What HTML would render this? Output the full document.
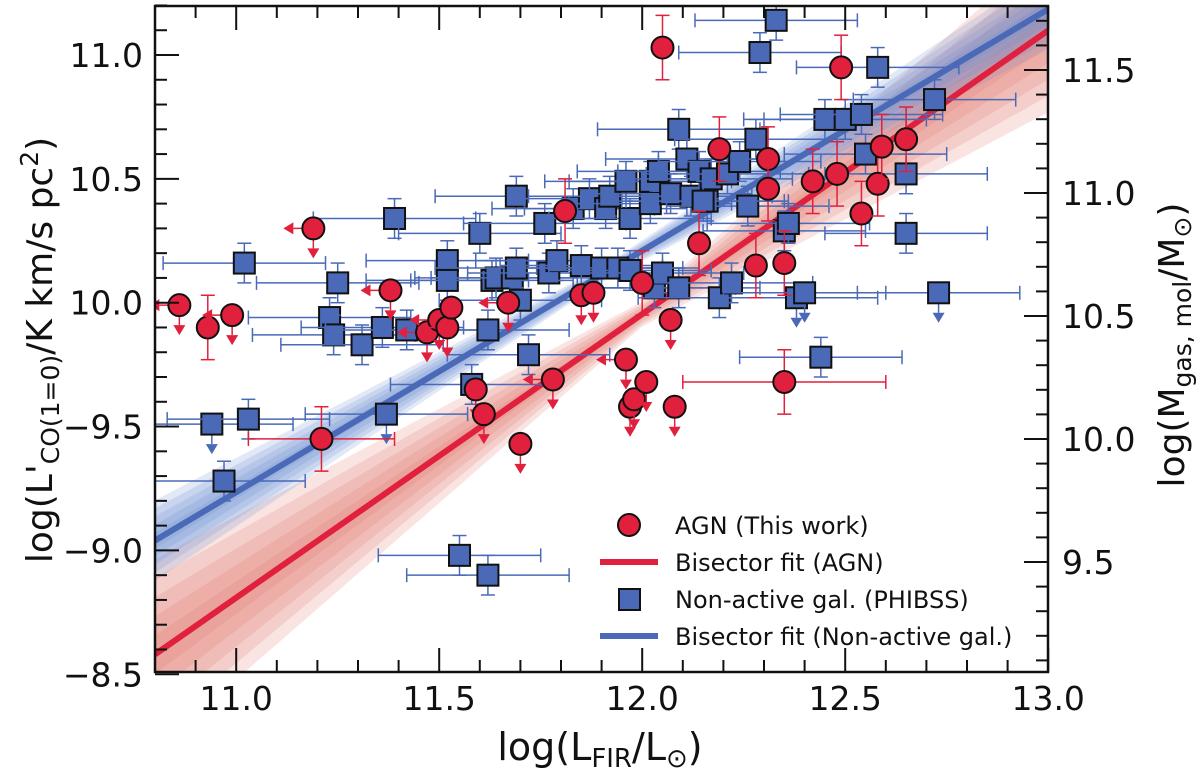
<!DOCTYPE html>
<html><head><meta charset="utf-8"><style>
body{margin:0;background:#fff}
svg text{font-family:"DejaVu Sans","Liberation Sans",sans-serif;fill:#111}
</style></head><body>
<svg id="chart" width="1200" height="772" viewBox="0 0 1200 772" xmlns="http://www.w3.org/2000/svg">
<defs><clipPath id="pc"><rect x="155" y="6" width="893" height="665"/></clipPath></defs>
<g id="bands" clip-path="url(#pc)"></g>
<g id="fits" clip-path="url(#pc)"></g>
<g id="blue" clip-path="url(#pc)"></g>
<g id="red" clip-path="url(#pc)"></g>
<g id="axes"></g>
<g>
  <circle cx="629" cy="525" r="11" fill="#e0203c" stroke="#111" stroke-width="2"/>
  <text x="675" y="534" font-size="24">AGN (This work)</text>
  <line x1="600" y1="562" x2="658" y2="562" stroke="#e0203c" stroke-width="6"/>
  <text x="675" y="571" font-size="24">Bisector fit (AGN)</text>
  <rect x="619" y="589" width="21" height="21" fill="#4a6ab8" stroke="#111" stroke-width="2"/>
  <text x="675" y="608" font-size="24">Non-active gal. (PHIBSS)</text>
  <line x1="600" y1="636" x2="658" y2="636" stroke="#4a6ab8" stroke-width="6"/>
  <text x="675" y="645" font-size="24">Bisector fit (Non-active gal.)</text>
</g>
<text x="600" y="760" font-size="38" text-anchor="middle">log(L<tspan font-size="26" dy="7">FIR</tspan><tspan dy="-7">/L</tspan><tspan font-size="26" dy="7">⊙</tspan><tspan dy="-7">)</tspan></text>
<text transform="translate(52,350) rotate(-90)" font-size="36" text-anchor="middle">log(L'<tspan font-size="25" dy="7">CO(1=0)</tspan><tspan dy="-7">/K km/s pc</tspan><tspan font-size="25" dy="-14">2</tspan><tspan dy="14">)</tspan></text>
<text transform="translate(1184,345) rotate(-90)" font-size="36" text-anchor="middle">log(M<tspan font-size="25" dy="7">gas, mol</tspan><tspan dy="-7">/M</tspan><tspan font-size="25" dy="7">⊙</tspan><tspan dy="-7">)</tspan></text>
</svg>
<script>
const xTicks=[11.0,11.5,12.0,12.5,13.0];
const xTickLabels=["11.0","11.5","12.0","12.5","13.0"];
const yTicks=[11.0,10.5,10.0,9.5,9.0,8.5];
const yTickLabels=["11.0","10.5","10.0","\u22129.5","\u22129.0","\u22128.5"];
const ry2Ticks=[11.5,11.0,10.5,10.0,9.5];
const ry2Labels=["11.5","11.0","10.5","10.0","9.5"];
const agnX=[10.86,10.93,10.99,11.19,11.21,11.38,11.47,11.50,11.52,11.53,11.59,11.61,11.67,11.70,11.78,11.81,11.85,11.88,11.96,11.97,11.98,12.00,12.01,12.07,12.08,12.05,12.14,12.19,12.28,12.31,12.31,12.35,12.35,12.42,12.48,12.49,12.54,12.58,12.59,12.65];
const agnY=[9.99,9.90,9.95,10.30,9.45,10.05,9.88,9.93,9.90,9.98,9.65,9.55,10.00,9.43,9.69,10.37,10.03,10.04,9.77,9.58,9.61,10.08,9.68,9.93,9.58,11.03,10.24,10.62,10.15,10.58,10.46,10.16,9.68,10.49,10.52,10.95,10.36,10.48,10.63,10.66];
const agnLim=[2,0,2,2,0,2,2,2,2,1,1,1,2,1,2,0,1,1,2,1,1,0,1,1,1,0,0,0,0,0,0,0,0,0,0,0,0,0,0,0];
const agnXerr=[0,0,0,0,0.18,0,0,0,0,0,0,0,0,0,0,0,0,0,0,0,0,0,0,0,0,0,0,0,0,0,0,0,0.25,0,0,0,0,0,0,0];
const nonX=[10.97,10.94,11.03,11.02,11.23,11.24,11.25,11.31,11.36,11.37,11.39,11.42,11.52,11.52,11.58,11.60,11.62,11.63,11.64,11.68,11.69,11.69,11.70,11.72,11.76,11.77,11.79,11.83,11.85,11.87,11.90,11.91,11.92,11.94,11.96,11.97,11.97,12.02,12.02,12.03,12.04,12.05,12.07,12.09,12.09,12.11,12.12,12.14,12.16,12.17,12.19,12.21,12.22,12.24,12.26,12.28,12.33,12.29,12.35,12.36,12.38,12.40,12.44,12.45,12.50,12.54,12.55,12.58,12.65,12.65,12.72,12.73,11.55,11.62,12.15];
const nonY=[9.28,9.51,9.53,10.16,9.94,9.87,10.08,9.83,9.90,9.55,10.34,9.89,10.17,10.09,9.67,10.28,9.89,10.09,10.10,10.10,10.14,10.43,10.01,9.79,10.32,10.12,10.17,10.38,10.15,10.42,10.14,10.38,10.43,10.14,10.49,10.34,10.13,10.49,10.40,10.06,10.53,10.12,10.44,10.06,10.70,10.58,10.43,10.53,10.41,10.50,10.02,10.52,10.08,10.57,10.39,10.66,11.14,11.01,10.29,10.32,10.02,10.04,9.78,10.74,10.74,10.76,10.60,10.95,10.52,10.28,10.82,10.04,8.98,8.90,10.41];
const nonLim=[0,1,0,0,0,0,0,0,0,1,0,0,0,0,0,0,0,0,0,0,0,0,0,0,0,0,0,0,0,0,0,0,0,0,0,0,0,0,0,0,0,0,0,0,0,0,0,0,0,0,0,0,0,0,0,0,0,0,0,0,1,1,0,0,0,0,0,0,0,0,0,1,0,0,0];
const fitAGN=[1.145,8.58];   // slope, value at x=10.8
const fitNon=[0.975,9.04];
const bandAGN=[12.0,0.28,0.05]; // pivot, spread per dex, base
const bandNon=[11.9,0.12,0.03];

const X0=155,X1=1048,Y0=672,Y1=6;
const xs=v=>X0+(v-10.8)*406;
const ys=v=>55+(11.0-v)*247.7;
const ys2=v=>70+(11.5-v)*246;
const NS="http://www.w3.org/2000/svg";
function mk(t,a,p){const e=document.createElementNS(NS,t);for(const k in a)e.setAttribute(k,a[k]);p.appendChild(e);return e;}
const axes=document.getElementById('axes');
const fr=mk('rect',{x:X0,y:Y1,width:X1-X0,height:Y0-Y1,fill:'none',stroke:'#111','stroke-width':2.5},axes);

for(let i=0;i<=22;i++){const v=10.8+i*0.1;const px=xs(v);const major=Math.abs(v*2-Math.round(v*2))<1e-6;const L=major?24:12;
 mk('line',{x1:px,y1:Y0,x2:px,y2:Y0-L,stroke:'#111','stroke-width':2},axes);
 mk('line',{x1:px,y1:Y1,x2:px,y2:Y1+L,stroke:'#111','stroke-width':2},axes);}
xTicks.forEach((v,i)=>{const t=mk('text',{x:xs(v),y:710,'font-size':33,'text-anchor':'middle'},axes);t.textContent=xTickLabels[i];
 });
for(let i=0;i<=27;i++){const v=8.5+i*0.1;if(v>11.2)break;const py=ys(v);const major=Math.abs(v*2-Math.round(v*2))<1e-6;
 mk('line',{x1:X0,y1:py,x2:X0+(major?24:12),y2:py,stroke:'#111','stroke-width':2},axes);}
yTicks.forEach((v,i)=>{const t=mk('text',{x:143,y:ys(v)+12,'font-size':33,'text-anchor':'end'},axes);t.textContent=yTickLabels[i];
 });
for(let i=0;i<=30;i++){const v=9.1+i*0.1;const py=ys2(v);if(py<Y1+2||py>Y0-2)continue;const major=Math.abs(v*2-Math.round(v*2))<1e-6;
 mk('line',{x1:X1,y1:py,x2:X1-(major?24:12),y2:py,stroke:'#111','stroke-width':2},axes);}
ry2Ticks.forEach((v,i)=>{const t=mk('text',{x:1062,y:ys2(v)+12,'font-size':33},axes);t.textContent=ry2Labels[i];
 });
const bands=document.getElementById('bands');
function band(fit,b,col){
 [1,0.8,0.6,0.4,0.2].forEach(f=>{let up=[],lo=[];
  for(let v=10.8;v<=13.01;v+=0.05){const m=fit[1]+fit[0]*(v-10.8);const w=(b[1]*Math.abs(v-b[0])+b[2])*f;
   up.push(xs(v)+','+ys(m+w));lo.unshift(xs(v)+','+ys(m-w));}
  const p=mk('polygon',{points:up.concat(lo).join(' '),fill:col,'fill-opacity':0.2},bands);
  });
}
band(fitAGN,bandAGN,'#e07a6c');
band(fitNon,bandNon,'#6a8ad0');
const fits=document.getElementById('fits');
function fline(fit,col,name){const l=mk('line',{x1:xs(10.8),y1:ys(fit[1]),x2:xs(13.0),y2:ys(fit[1]+fit[0]*2.2),stroke:col,'stroke-width':6},fits);
 }
fline(fitAGN,'#e0203c','agn-bisector-fit');
fline(fitNon,'#4a6ab8','nonactive-bisector-fit');
const bg=document.getElementById('blue');const BC='#4a6ab8';
nonX.forEach((x,i)=>{const px=xs(x),py=ys(nonY[i]);const g=mk('g',{},bg);
 
 const xl=xs(x-0.2),xr=xs(x+0.2);
 mk('line',{x1:xl,y1:py,x2:xr,y2:py,stroke:BC,'stroke-width':1.5},g);
 mk('line',{x1:xl,y1:py-7,x2:xl,y2:py+7,stroke:BC,'stroke-width':1.5},g);
 mk('line',{x1:xr,y1:py-7,x2:xr,y2:py+7,stroke:BC,'stroke-width':1.5},g);
 if(nonLim[i]){mk('line',{x1:px,y1:py,x2:px,y2:py+20,stroke:BC,'stroke-width':1.5},g);
  mk('polygon',{points:`${px-6},${py+20} ${px+6},${py+20} ${px},${py+30}`,fill:BC},g);}
 else{const yt=ys(nonY[i]+0.08),yb=ys(nonY[i]-0.08);
  mk('line',{x1:px,y1:yt,x2:px,y2:yb,stroke:BC,'stroke-width':1.5},g);
  mk('line',{x1:px-7,y1:yt,x2:px+7,y2:yt,stroke:BC,'stroke-width':1.5},g);
  mk('line',{x1:px-7,y1:yb,x2:px+7,y2:yb,stroke:BC,'stroke-width':1.5},g);}
 mk('rect',{x:px-10.5,y:py-10.5,width:21,height:21,fill:BC,stroke:'#111','stroke-width':2},g);
});
const rg=document.getElementById('red');const RC='#e0203c';
agnX.forEach((x,i)=>{const px=xs(x),py=ys(agnY[i]);const g=mk('g',{},rg);
 
 const lim=agnLim[i];
 if(lim>=1){mk('line',{x1:px,y1:py,x2:px,y2:py+20,stroke:RC,'stroke-width':1.5},g);
  mk('polygon',{points:`${px-6},${py+20} ${px+6},${py+20} ${px},${py+30}`,fill:RC},g);}
 if(lim===2){mk('line',{x1:px,y1:py,x2:px-20,y2:py,stroke:RC,'stroke-width':1.5},g);
  mk('polygon',{points:`${px-20},${py-6} ${px-20},${py+6} ${px-30},${py}`,fill:RC},g);}
 if(lim===0){const yt=ys(agnY[i]+0.13),yb=ys(agnY[i]-0.13);
  mk('line',{x1:px,y1:yt,x2:px,y2:yb,stroke:RC,'stroke-width':1.5},g);
  mk('line',{x1:px-7,y1:yt,x2:px+7,y2:yt,stroke:RC,'stroke-width':1.5},g);
  mk('line',{x1:px-7,y1:yb,x2:px+7,y2:yb,stroke:RC,'stroke-width':1.5},g);
  if(agnXerr[i]>0){const xl=xs(x-agnXerr[i]),xr=xs(x+agnXerr[i]);
   mk('line',{x1:xl,y1:py,x2:xr,y2:py,stroke:RC,'stroke-width':1.5},g);
   mk('line',{x1:xl,y1:py-7,x2:xl,y2:py+7,stroke:RC,'stroke-width':1.5},g);
   mk('line',{x1:xr,y1:py-7,x2:xr,y2:py+7,stroke:RC,'stroke-width':1.5},g);}}
 mk('circle',{cx:px,cy:py,r:11,fill:RC,stroke:'#111','stroke-width':2},g);
});
</script>
</body></html>
